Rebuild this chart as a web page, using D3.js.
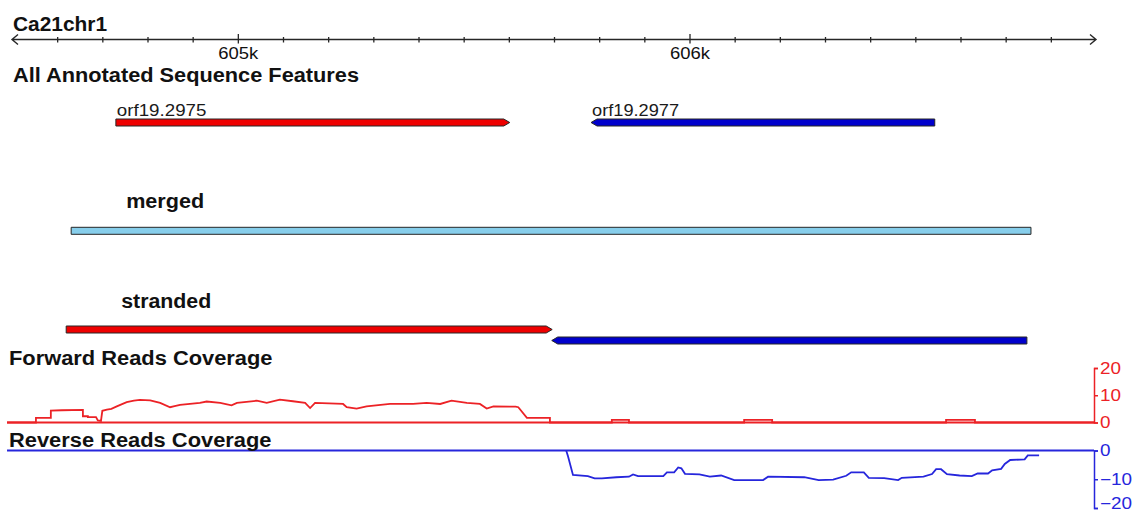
<!DOCTYPE html>
<html>
<head>
<meta charset="utf-8">
<script src="https://cdn.jsdelivr.net/npm/d3@7"></script>
<style>
  html, body { margin: 0; padding: 0; background: #fff; }
  svg { display: block; font-family: "Liberation Sans", Arial, sans-serif; }
</style>
</head>
<body>
<div id="chart"></div>
<script>
const width = 1132;
const height = 513;

const chromName = "Ca21chr1";
const viewStart = 604500;
const viewEnd = 606900;
const minorTicks = d3.range(604600, 606801, 100);
const majorTicks = [605000, 606000];
const majorLabels = ["605k", "606k"];

// annotated genes
const geneNames = ["orf19.2975", "orf19.2977"];
const geneStart = [604730, 605782];
const geneEnd = [605602, 606543];
const geneStrand = ["+", "-"];

// merged transcript
const mergedStart = [604631];
const mergedEnd = [606756];

// stranded transcripts
const strandedStart = [604620, 605695];
const strandedEnd = [605696, 606747];
const strandedStrand = ["+", "-"];

// forward reads coverage (position, depth)
const fwdPos = [604489, 604553, 604553, 604586, 604586, 604610, 604657, 604657, 604668, 604668, 604686, 604690,
  604697, 604700, 604710, 604720, 604732, 604754, 604770, 604783, 604806, 604828, 604850, 604860, 604872,
  604916, 604931, 604961, 604986, 604998, 605042, 605064, 605093, 605122, 605149, 605160, 605171, 605233,
  605241, 605263, 605285, 605337, 605388, 605418, 605448, 605473, 605507, 605536, 605551, 605566, 605615,
  605621, 605640, 605691, 605691, 605828, 605828, 605866, 605866, 606121, 606121, 606183, 606183, 606568,
  606568, 606632, 606632, 606896];
const fwdCov = [0, 0, 1.7, 1.7, 4.4, 4.5, 4.6, 2.3, 2.3, 2.0, 2.0, 0.8,
  0.6, 4.3, 4.7, 5.0, 5.9, 7.5, 8.0, 8.3, 8.1, 7.2, 5.6, 6.0, 6.5,
  7.2, 7.7, 7.2, 6.3, 7.2, 8.0, 7.2, 8.4, 7.8, 7.2, 5.3, 7.2, 6.8,
  5.6, 5.1, 5.9, 6.8, 6.8, 7.2, 6.8, 8.0, 7.2, 6.8, 5.1, 5.9, 5.8,
  5.6, 1.7, 1.7, 0, 0, 1, 1, 0, 0, 1, 1, 0, 0,
  1, 1, 0, 0];

// reverse reads coverage (position, depth)
const revPos = [605727, 605731, 605742, 605775, 605790, 605806, 605838, 605866, 605875, 605886, 605942, 605950,
  605966, 605975, 605982, 605990, 606022, 606045, 606070, 606099, 606163, 606174, 606254, 606286, 606318,
  606347, 606358, 606386, 606397, 606431, 606462, 606470, 606518, 606537, 606546, 606557, 606570, 606598,
  606625, 606638, 606661, 606670, 606690, 606698, 606710, 606742, 606749, 606774];
const revCov = [0, -2, -8.5, -8.9, -9.7, -9.7, -9.3, -9.1, -8.3, -8.9, -8.9, -7.6,
  -7.6, -5.9, -6.2, -8.1, -8.3, -9.1, -8.7, -10.3, -10.3, -9.1, -9.3, -10.3, -10.1,
  -8.8, -7.6, -7.6, -9.5, -9.6, -10.3, -9.5, -9.1, -8.2, -6.5, -6.5, -8.2, -8.7,
  -8.9, -8.0, -8.0, -6.9, -6.4, -4.7, -3.3, -3.1, -1.7, -1.7];

const fwdTicks = [0, 10, 20];
const revTicks = [0, -10, -20];

const redFill = "#ee0000";
const blueFill = "#0000cc";
const mergedFill = "#87ceeb";
const fwdColor = "#ec2226";
const revColor = "#2626dc";
const outline = "#262626";

const svg = d3.select("#chart").append("svg")
  .attr("width", width)
  .attr("height", height);

const x = d3.scaleLinear().domain([viewStart, viewEnd]).range([12, 1096]);

// text helper; the reference text is a bit wider than the font, so stretch it
function label(str, px, py, size, weight, len, color) {
  const t = svg.append("text")
    .attr("x", px)
    .attr("y", py)
    .attr("font-size", size)
    .attr("font-weight", weight)
    .attr("fill", color || "#111")
    .text(str);
  if (len) t.attr("textLength", len).attr("lengthAdjust", "spacingAndGlyphs");
  return t;
}

function featurePath(s, e, yc, h, strand) {
  const x0 = x(s), x1 = x(e), a = h / 2, tip = 6;
  if (strand === "+") return `M${x0},${yc - a}H${x1 - tip}L${x1},${yc}L${x1 - tip},${yc + a}H${x0}Z`;
  if (strand === "-") return `M${x1},${yc - a}H${x0 + tip}L${x0},${yc}L${x0 + tip},${yc + a}H${x1}Z`;
  return `M${x0},${yc - a}H${x1}V${yc + a}H${x0}Z`;
}

// ---- chromosome ruler ----
const axisY = 39.5;
label(chromName, 13, 31, 20, "bold", 94);

const ruler = svg.append("g")
  .attr("transform", `translate(0,${axisY})`)
  .call(d3.axisBottom(x)
    .tickValues(minorTicks)
    .tickSize(3)
    .tickFormat(d => {
      const i = majorTicks.indexOf(d);
      return i >= 0 ? majorLabels[i] : "";
    }));
ruler.select(".domain").remove();
ruler.selectAll(".tick line")
  .attr("y1", d => majorTicks.includes(d) ? -5.5 : -2.5)
  .attr("y2", d => majorTicks.includes(d) ? 4 : 3)
  .attr("stroke", outline)
  .attr("stroke-width", 1.3);
ruler.selectAll(".tick text")
  .attr("y", 19.5)
  .attr("dy", null)
  .attr("font-size", 16)
  .attr("font-family", "'Liberation Sans', Arial, sans-serif")
  .attr("fill", "#111")
  .filter(d => majorTicks.includes(d))
  .attr("textLength", 40)
  .attr("lengthAdjust", "spacingAndGlyphs");

const [rx0, rx1] = x.range();
ruler.append("path")
  .attr("d", `M${rx0},0H${rx1}M${rx0 + 6},-5L${rx0},0L${rx0 + 6},5M${rx1 - 6},-5L${rx1},0L${rx1 - 6},5`)
  .attr("fill", "none")
  .attr("stroke", outline)
  .attr("stroke-width", 1.4);

label("All Annotated Sequence Features", 13, 81.5, 20, "bold", 346);

// ---- genes ----
const geneY = 122.5;
const genes = geneNames.map((n, i) => ({ name: n, start: geneStart[i], end: geneEnd[i], strand: geneStrand[i] }));
svg.selectAll("path.gene")
  .data(genes)
  .enter()
  .append("path")
    .attr("class", "gene")
    .attr("d", d => featurePath(d.start, d.end, geneY, 7, d.strand))
    .attr("fill", d => d.strand === "+" ? redFill : blueFill)
    .attr("stroke", outline)
    .attr("stroke-width", 1);
genes.forEach(d => {
  label(d.name, x(d.start) + 1, 115.5, 16, "normal", d.strand === "+" ? 89.5 : 87, "#1a1a1a");
});

// ---- merged ----
const mergedY = 230.8;
label("merged", x(mergedStart[0]) + 55, 208, 20, "bold", 78);
svg.selectAll("path.merged")
  .data(mergedStart.map((s, i) => ({ start: s, end: mergedEnd[i] })))
  .enter()
  .append("path")
    .attr("class", "merged")
    .attr("d", d => featurePath(d.start, d.end, mergedY, 7, "."))
    .attr("fill", mergedFill)
    .attr("stroke", outline)
    .attr("stroke-width", 1);

// ---- stranded ----
label("stranded", x(strandedStart[0]) + 55, 307.5, 20, "bold", 90);
svg.selectAll("path.stranded")
  .data(strandedStart.map((s, i) => ({ start: s, end: strandedEnd[i], strand: strandedStrand[i] })))
  .enter()
  .append("path")
    .attr("class", "stranded")
    .attr("d", d => featurePath(d.start, d.end, d.strand === "+" ? 329.5 : 340.5, 7, d.strand))
    .attr("fill", d => d.strand === "+" ? redFill : blueFill)
    .attr("stroke", outline)
    .attr("stroke-width", 1);

// ---- coverage tracks ----
const covRight = 1094;
const covLeft = x(fwdPos[0]);
const yF = d3.scaleLinear().domain([0, 20]).range([422.5, 368]);
const yR = d3.scaleLinear().domain([0, -20]).range([450.5, 508]);

label("Forward Reads Coverage", 9, 365, 20, "bold", 263.5);

svg.append("line")
  .attr("x1", covLeft).attr("x2", covRight)
  .attr("y1", yF(0)).attr("y2", yF(0))
  .attr("stroke", fwdColor).attr("stroke-width", 1.8);

const fwdLine = d3.line().x(d => x(d[0])).y(d => yF(d[1]));
svg.append("path")
  .datum(fwdPos.map((p, i) => [p, fwdCov[i]]))
  .attr("d", fwdLine)
  .attr("fill", "none")
  .attr("stroke", fwdColor)
  .attr("stroke-width", 1.8);

const fAxis = svg.append("g")
  .attr("transform", `translate(${covRight},0)`)
  .call(d3.axisRight(yF).tickValues(fwdTicks).tickSize(4).tickPadding(2));

svg.append("line")
  .attr("x1", covLeft).attr("x2", covRight)
  .attr("y1", yR(0)).attr("y2", yR(0))
  .attr("stroke", revColor).attr("stroke-width", 1.8);

label("Reverse Reads Coverage", 9, 447, 20, "bold", 262.5);

const revLine = d3.line().x(d => x(d[0])).y(d => yR(d[1]));
svg.append("path")
  .datum(revPos.map((p, i) => [p, revCov[i]]))
  .attr("d", revLine)
  .attr("fill", "none")
  .attr("stroke", revColor)
  .attr("stroke-width", 1.8);

const rAxis = svg.append("g")
  .attr("transform", `translate(${covRight},0)`)
  .call(d3.axisRight(yR).tickValues(revTicks).tickSize(4).tickPadding(2));

[[fAxis, fwdColor], [rAxis, revColor]].forEach(([g, c]) => {
  g.attr("font-family", "'Liberation Sans', Arial, sans-serif").attr("font-size", 16);
  g.selectAll(".domain, .tick line").attr("stroke", c).attr("stroke-width", 1.5);
  g.selectAll(".tick text").attr("fill", c).each(function() {
    const w = this.getComputedTextLength();
    d3.select(this).attr("textLength", w * 1.18).attr("lengthAdjust", "spacingAndGlyphs");
  });
});
// lowest label sits on the bottom edge; nudge it up so it stays inside
rAxis.selectAll(".tick text").filter(d => d === -20).attr("dy", "0.06em");
</script>
</body>
</html>
